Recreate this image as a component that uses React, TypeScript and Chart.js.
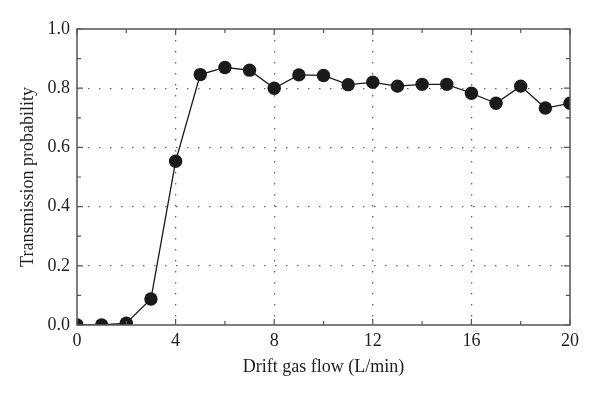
import React, { useEffect, useRef } from "react";
import { Chart, registerables } from "chart.js";

Chart.register(...registerables);

const flows = [0, 1, 2, 3, 4, 5, 6, 7, 8, 9, 10, 11, 12, 13, 14, 15, 16, 17, 18, 19, 20];
const transmission = [0.0, 0.0, 0.006, 0.088, 0.553, 0.846, 0.87, 0.861, 0.8, 0.845, 0.843, 0.812, 0.82, 0.807, 0.813, 0.813, 0.783, 0.749, 0.807, 0.733, 0.749];
const xMajorTicks = [0, 4, 8, 12, 16, 20];
const xMinorTicks = [2, 6, 10, 14, 18];
const yMajorTicks = [0, 0.2, 0.4, 0.6, 0.8, 1.0];
const yMinorTicks = [0.1, 0.3, 0.5, 0.7, 0.9];

const FONT = "'Liberation Serif', 'DejaVu Serif', serif";
const AXIS = "#555555";

const framePlugin = {
  id: "frame",
  afterDatasetsDraw(chart: any) {
    const { ctx, chartArea: a, scales } = chart;
    const xs = scales.x;
    const ys = scales.y;
    ctx.save();
    ctx.strokeStyle = AXIS;
    ctx.lineWidth = 1.5;
    ctx.strokeRect(a.left, a.top, a.right - a.left, a.bottom - a.top);
    ctx.lineWidth = 1.2;
    const tick = (vals: number[], len: number) => {
      vals.forEach((v) => {
        const px = xs.getPixelForValue(v);
        ctx.beginPath();
        ctx.moveTo(px, a.bottom);
        ctx.lineTo(px, a.bottom - len);
        ctx.moveTo(px, a.top);
        ctx.lineTo(px, a.top + len);
        ctx.stroke();
      });
    };
    const ytick = (vals: number[], len: number) => {
      vals.forEach((v) => {
        const py = ys.getPixelForValue(v);
        ctx.beginPath();
        ctx.moveTo(a.left, py);
        ctx.lineTo(a.left + len, py);
        ctx.moveTo(a.right, py);
        ctx.lineTo(a.right - len, py);
        ctx.stroke();
      });
    };
    tick(xMajorTicks, 6);
    tick(xMinorTicks, 4);
    ytick(yMajorTicks, 6);
    ytick(yMinorTicks, 4);
    ctx.restore();
  },
};

export default function App() {
  const ref = useRef<HTMLCanvasElement>(null);
  useEffect(() => {
    if (!ref.current) return;
    const chart = new Chart(ref.current, {
      type: "line",
      data: {
        datasets: [
          {
            data: flows.map((f, i) => ({ x: f, y: transmission[i] })),
            borderColor: "#1a1a1a",
            borderWidth: 1.3,
            backgroundColor: "#1a1a1a",
            pointBackgroundColor: "#1a1a1a",
            pointBorderColor: "#1a1a1a",
            pointRadius: 6.7,
            pointBorderWidth: 0,
            tension: 0,
            clip: 0,
          } as any,
        ],
      },
      options: {
        animation: false,
        responsive: false,
        devicePixelRatio: 1,
        layout: { padding: { top: 29, right: 30, left: 0, bottom: 0 } },
        plugins: { legend: { display: false }, tooltip: { enabled: false } },
        scales: {
          x: {
            type: "linear",
            min: 0,
            max: 20,
            afterBuildTicks: (s: any) => {
              s.ticks = xMajorTicks.map((v) => ({ value: v }));
            },
            afterFit: (s: any) => {
              s.height = 73;
            },
            ticks: {
              color: "#1e1e1e",
              font: { family: FONT, size: 18 },
              padding: 5,
              maxRotation: 0,
            },
            grid: {
              drawTicks: false,
              color: (c: any) => (c.tick && (c.tick.value === 0 || c.tick.value === 20) ? "rgba(0,0,0,0)" : "#666"),
              lineWidth: 1.3,
            } as any,
            border: { display: false, dash: [1.5, 9.5] } as any,
            title: {
              display: true,
              text: "Drift gas flow (L/min)",
              color: "#1e1e1e",
              font: { family: FONT, size: 18 },
              padding: { top: 0, bottom: 20 },
            },
          },
          y: {
            type: "linear",
            min: 0,
            max: 1,
            afterBuildTicks: (s: any) => {
              s.ticks = yMajorTicks.map((v) => ({ value: v }));
            },
            afterFit: (s: any) => {
              s.width = 77;
            },
            ticks: {
              color: "#1e1e1e",
              font: { family: FONT, size: 18 },
              padding: 7,
              callback: (v: any) => Number(v).toFixed(1),
            },
            grid: {
              drawTicks: false,
              color: (c: any) => (c.tick && (c.tick.value === 0 || c.tick.value === 1) ? "rgba(0,0,0,0)" : "#666"),
              lineWidth: 1.3,
            } as any,
            border: { display: false, dash: [1.5, 9.5] } as any,
            title: {
              display: true,
              text: "Transmission probability",
              color: "#1e1e1e",
              font: { family: FONT, size: 18 },
              padding: { top: 17, bottom: 0 },
            },
          },
        },
      },
      plugins: [framePlugin],
    });
    return () => chart.destroy();
  }, []);
  return (
    <div style={{ position: "absolute", left: 0, top: 0, width: 600, height: 398, background: "#fff" }}>
      <canvas ref={ref} width={600} height={398} style={{ width: 600, height: 398, display: "block" }} />
    </div>
  );
}
